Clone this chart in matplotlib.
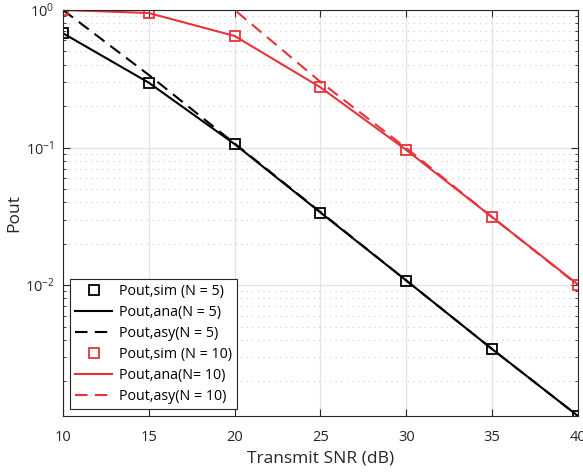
import matplotlib.pyplot as plt
from matplotlib.ticker import LogLocator, NullFormatter

plt.rcParams['font.family'] = ['Open Sans', 'DejaVu Sans']
plt.rcParams['mathtext.fontset'] = 'custom'
plt.rcParams['mathtext.rm'] = 'Open Sans'
plt.rcParams['mathtext.it'] = 'Open Sans:italic'

snr_db = [10, 15, 20, 25, 30, 35, 40]

# N = 5
sim_n5 = [0.677, 0.296, 0.106, 0.0337, 0.0108, 0.00343, 0.00112]
ana_n5 = [0.677, 0.296, 0.106, 0.0337, 0.0108, 0.00343, 0.00112]
asy_n5 = [1.0, 0.337, 0.107, 0.0340, 0.0108, 0.00343, 0.00112]

# N = 10
sim_n10 = [1.0, 0.95, 0.647, 0.274, 0.096, 0.0312, 0.0101]
ana_n10 = [1.0, 0.95, 0.647, 0.274, 0.096, 0.0312, 0.0101]
asy_n10 = [10.5, 3.3, 1.0, 0.300, 0.099, 0.0312, 0.0100]

red = '#e8333a'
dash = (0, (6, 3.5))

fig = plt.figure(figsize=(5.83, 4.74), dpi=100)
ax = fig.add_axes([0.108, 0.1224, 0.8834, 0.8566])

ax.plot(snr_db, sim_n5, 's', color='black', mfc='none', ms=7, mew=1.3,
        label='Pout,sim (N = 5)')
ax.plot(snr_db, ana_n5, '-', color='black', lw=1.5, label='Pout,ana(N = 5)')
ax.plot(snr_db, asy_n5, color='black', lw=1.5, linestyle=dash,
        label='Pout,asy(N = 5)')
ax.plot(snr_db, sim_n10, 's', color=red, mfc='none', ms=7, mew=1.3,
        label='Pout,sim (N = 10)')
ax.plot(snr_db, ana_n10, '-', color=red, lw=1.5, label='Pout,ana(N= 10)')
ax.plot(snr_db, asy_n10, color=red, lw=1.5, linestyle=dash,
        label='Pout,asy(N = 10)')

ax.set_yscale('log')
ax.set_xlim(10, 40)
ax.set_ylim(0.00112, 1)
ax.set_xticks([10, 15, 20, 25, 30, 35, 40])
ax.yaxis.set_major_locator(LogLocator(base=10, numticks=10))
ax.yaxis.set_minor_locator(LogLocator(base=10, subs=range(2, 10), numticks=20))
ax.yaxis.set_minor_formatter(NullFormatter())

ax.grid(True, which='major', color='#e3e3e3', lw=0.9)
ax.grid(True, which='minor', axis='y', color='#cfcfcf', lw=0.8, linestyle=(0, (1, 4)))
ax.set_axisbelow(True)

ax.tick_params(which='both', direction='in', top=True, right=True,
               labelsize=10.5, colors='#262626')
ax.tick_params(which='major', length=5, width=0.8)
ax.tick_params(axis='x', which='major', pad=10)
ax.tick_params(axis='y', which='major', pad=6)
ax.tick_params(which='minor', length=2.5, width=0.6)
for s in ax.spines.values():
    s.set_color('#262626')
    s.set_linewidth(0.8)

ax.set_xlabel('Transmit SNR (dB)', fontsize=12.5, color='#262626', labelpad=4)
ax.set_ylabel('Pout', fontsize=12.5, color='#262626', labelpad=2)

leg = ax.legend(loc='lower left', fontsize=10.3, frameon=True, fancybox=False,
                edgecolor='#262626', framealpha=1, handlelength=2.6,
                borderaxespad=0.5, labelspacing=0.42, handletextpad=0.5,
                borderpad=0.35)
leg.get_frame().set_linewidth(0.8)

fig.savefig('out.png', dpi=100)
